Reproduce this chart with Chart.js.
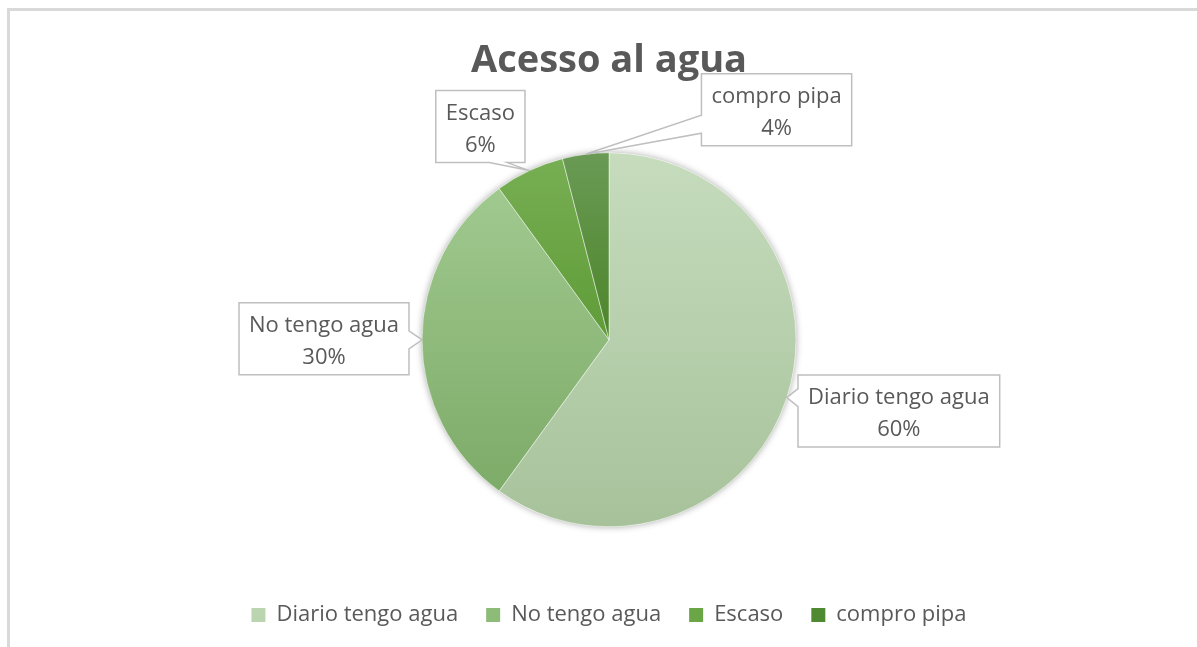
<!DOCTYPE html>
<html>
<head>
<meta charset="utf-8">
<script src="https://cdn.jsdelivr.net/npm/chart.js@4.4.0/dist/chart.umd.min.js"></script>
<style>
  html, body { margin: 0; padding: 0; background: #fff; overflow: hidden; }
  #frame { position: absolute; left: 7px; top: 8px; width: 1300px; height: 800px;
           border-top: 3px solid #d9d9d9; border-left: 3px solid #d9d9d9; }
  #chart { position: absolute; left: 0; top: 0; }
</style>
</head>
<body>
<div id="frame"></div>
<canvas id="chart" width="1197" height="647"></canvas>
<script>
const categories = ['Diario tengo agua', 'No tengo agua', 'Escaso', 'compro pipa'];
const values = [60, 30, 6, 4];

// colours: top / bottom of each slice's gradient, plus legend swatches
const topColors = ['#c6dcbd', '#a0c98f', '#77ae53', '#6a9a55'];
const bottomColors = ['#a7c29b', '#7dab68', '#5f9c37', '#4c8529'];
const legendColors = ['#bcd5b1', '#8dbb78', '#6ba646', '#4f8a33'];

const FONT = "'Open Sans', sans-serif";
const TEXT_COLOR = '#595959';
const PIE_RADIUS = 187;

// vertical extent of a slice (so the gradient runs over the slice itself)
function sliceExtent(i, cy, r) {
  const total = values.reduce((a, b) => a + b, 0);
  let before = 0;
  for (let k = 0; k < i; k++) before += values[k];
  const a0 = -Math.PI / 2 + before / total * 2 * Math.PI;
  const a1 = a0 + values[i] / total * 2 * Math.PI;
  let ys = [cy, cy + r * Math.sin(a0), cy + r * Math.sin(a1)];
  for (let a = -Math.PI / 2; a <= 2 * Math.PI; a += Math.PI) {
    if (a > a0 && a < a1) ys.push(cy + r * Math.sin(a));
  }
  return [Math.min(...ys), Math.max(...ys)];
}

function sliceColor(context) {
  const chart = context.chart;
  const area = chart.chartArea;
  const i = context.dataIndex;
  if (!area) return topColors[i];
  const cy = (area.top + area.bottom) / 2;
  const ext = sliceExtent(i, cy, PIE_RADIUS);
  const g = chart.ctx.createLinearGradient(0, ext[0], 0, ext[1]);
  g.addColorStop(0, topColors[i]);
  g.addColorStop(1, bottomColors[i]);
  return g;
}

// soft shadow behind the whole pie
const pieShadow = {
  id: 'pieShadow',
  beforeDatasetsDraw(chart) {
    const arc = chart.getDatasetMeta(0).data[0];
    if (!arc) return;
    const ctx = chart.ctx;
    ctx.save();
    ctx.shadowColor = 'rgba(0,0,0,0.35)';
    ctx.shadowBlur = 7;
    ctx.beginPath();
    ctx.arc(arc.x, arc.y, arc.outerRadius, 0, Math.PI * 2);
    ctx.fillStyle = '#ffffff';
    ctx.fill();
    ctx.restore();
  }
};

function drawCallout(ctx, x, y, w, h, ax, ay) {
  const r = x + w, b = y + h;
  const sides = [['left', x - ax], ['right', ax - r], ['top', y - ay], ['bottom', ay - b]];
  const side = sides.sort((p, q) => q[1] - p[1])[0][0];
  const half = 9;
  const clamp = (v, lo, hi) => Math.max(lo, Math.min(hi, v));
  ctx.beginPath();
  ctx.moveTo(x, y);
  if (side === 'top') {
    const c = clamp(ax, x + w * 0.3, r - w * 0.3);
    ctx.lineTo(c - half, y); ctx.lineTo(ax, ay); ctx.lineTo(c + half, y);
  }
  ctx.lineTo(r, y);
  if (side === 'right') {
    const c = clamp(ay, y + h * 0.3, b - h * 0.3);
    ctx.lineTo(r, c - half); ctx.lineTo(ax, ay); ctx.lineTo(r, c + half);
  }
  ctx.lineTo(r, b);
  if (side === 'bottom') {
    const c = clamp(ax, x + w * 0.3, r - w * 0.3);
    ctx.lineTo(c + half, b); ctx.lineTo(ax, ay); ctx.lineTo(c - half, b);
  }
  ctx.lineTo(x, b);
  if (side === 'left') {
    const c = clamp(ay, y + h * 0.3, b - h * 0.3);
    ctx.lineTo(x, c + half); ctx.lineTo(ax, ay); ctx.lineTo(x, c - half);
  }
  ctx.closePath();
  ctx.fillStyle = '#ffffff';
  ctx.fill();
  ctx.strokeStyle = '#bfbfbf';
  ctx.lineWidth = 1.5;
  ctx.stroke();
}

// Excel style data callouts: category name + percentage
const callouts = {
  id: 'callouts',
  afterDatasetsDraw(chart, args, opts) {
    const ctx = chart.ctx;
    const meta = chart.getDatasetMeta(0);
    const total = values.reduce((a, b) => a + b, 0);
    ctx.save();
    ctx.font = opts.font;
    meta.data.forEach((arc, i) => {
      const p = arc.getProps(['x', 'y', 'startAngle', 'endAngle', 'outerRadius'], true);
      const mid = (p.startAngle + p.endAngle) / 2;
      const ax = p.x + Math.cos(mid) * p.outerRadius;
      const ay = p.y + Math.sin(mid) * p.outerRadius;
      const lines = [categories[i], Math.round(values[i] / total * 100) + '%'];
      const tw = Math.max(...lines.map(t => ctx.measureText(t).width));
      const w = tw + opts.padX * 2, h = opts.height;
      const off = opts.offsets[i];
      const bx = ax + off[0] - w / 2, by = ay + off[1] - h / 2;
      drawCallout(ctx, bx, by, w, h, ax, ay);
      ctx.fillStyle = opts.color;
      ctx.textAlign = 'center';
      ctx.textBaseline = 'middle';
      const ty = by + h / 2 + opts.textShift;
      ctx.fillText(lines[0], bx + w / 2, ty - opts.lineGap / 2);
      ctx.fillText(lines[1], bx + w / 2, ty + opts.lineGap / 2);
    });
    ctx.restore();
  }
};

new Chart(document.getElementById('chart'), {
  type: 'pie',
  data: {
    labels: categories,
    datasets: [{
      data: values,
      backgroundColor: sliceColor,
      borderColor: 'rgba(255,255,255,0.45)',
      borderWidth: 1,
      radius: PIE_RADIUS
    }]
  },
  options: {
    responsive: false,
    animation: false,
    layout: { padding: { left: 21, right: 0, top: 0, bottom: 11 } },
    plugins: {
      title: {
        display: true,
        text: 'Acesso al agua',
        color: TEXT_COLOR,
        font: { family: FONT, size: 38, weight: 'bold' },
        padding: { top: 38, bottom: 20 }
      },
      legend: {
        position: 'bottom',
        labels: {
          color: TEXT_COLOR,
          font: { family: FONT, size: 22 },
          boxWidth: 14,
          boxHeight: 14,
          padding: 28,
          generateLabels(chart) {
            const items = Chart.overrides.pie.plugins.legend.labels.generateLabels(chart);
            items.forEach((it, i) => {
              it.fillStyle = legendColors[i];
              it.strokeStyle = legendColors[i];
              it.lineWidth = 0;
            });
            return items;
          }
        },
        onClick: null
      },
      tooltip: { enabled: false },
      callouts: {
        font: '22px ' + FONT,
        color: TEXT_COLOR,
        padX: 10,
        height: 72,
        lineGap: 32,
        textShift: 3,
        offsets: [[112, 13.5], [-98, -1], [-49, -44], [191, -44.5]]
      }
    }
  },
  plugins: [pieShadow, callouts]
});
</script>
</body>
</html>
